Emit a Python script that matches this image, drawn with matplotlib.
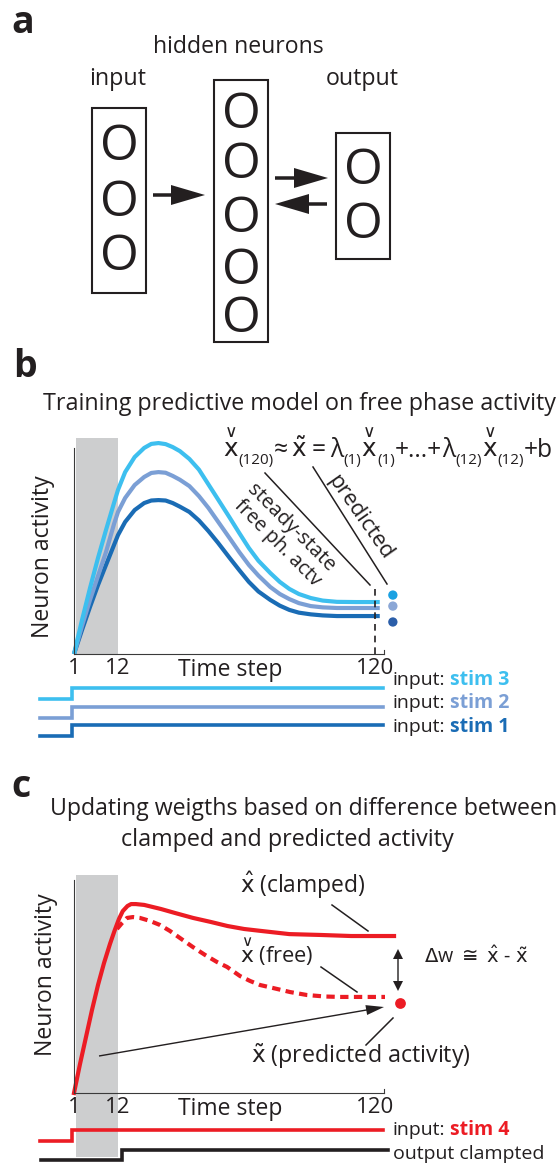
import numpy as np
import matplotlib
matplotlib.use('Agg')
import matplotlib.pyplot as plt
from matplotlib.patches import Rectangle, FancyArrow
from matplotlib.transforms import blended_transform_factory

plt.rcParams['font.family'] = ['Open Sans', 'DejaVu Sans']
plt.rcParams['mathtext.fontset'] = 'dejavusans'

# ---------------- data ----------------
# panel b: free-phase activity for three stimuli (time step, activity 0..1)
t_b = [1, 3, 5, 7, 9, 11, 12, 15, 19, 23, 26, 29, 32, 35, 38, 42, 46, 50, 54, 59,
       63, 67, 71, 76, 80, 84, 88, 93, 98, 104, 112, 122]
act_stim3 = [0, 0.16, 0.311, 0.453, 0.585, 0.712, 0.774, 0.858, 0.929, 0.972, 0.991, 0.995,
             0.99, 0.976, 0.957, 0.92, 0.87, 0.80, 0.73, 0.642, 0.57, 0.50, 0.44, 0.382,
             0.34, 0.307, 0.283, 0.264, 0.252, 0.246, 0.245, 0.245]
act_stim2 = [0, 0.132, 0.255, 0.368, 0.481, 0.613, 0.67, 0.736, 0.797, 0.835, 0.854, 0.858,
             0.855, 0.84, 0.822, 0.792, 0.745, 0.689, 0.625, 0.545, 0.48, 0.42, 0.37, 0.316,
             0.283, 0.259, 0.24, 0.226, 0.22, 0.217, 0.217, 0.217]
act_stim1 = [0, 0.113, 0.222, 0.325, 0.42, 0.514, 0.561, 0.623, 0.679, 0.712, 0.724, 0.726,
             0.724, 0.712, 0.695, 0.67, 0.63, 0.58, 0.525, 0.452, 0.395, 0.34, 0.295, 0.255,
             0.228, 0.208, 0.195, 0.187, 0.182, 0.179, 0.179, 0.179]
t_pred_b = 127.5
pred_b = [0.278, 0.226, 0.151]          # stim 3, stim 2, stim 1

# panel c: clamped vs free activity for stim 4
t_clamped = [1, 2.5, 4, 5.5, 7, 8.5, 10, 11.2, 12.4, 14, 16, 17.5, 19.5, 23, 30, 36,
             43.5, 51, 58, 65, 72, 84, 97, 110, 128]
act_clamped = [0, 0.136, 0.263, 0.39, 0.507, 0.61, 0.70, 0.765, 0.817, 0.854, 0.878, 0.887,
               0.887, 0.883, 0.864, 0.845, 0.822, 0.803, 0.784, 0.77, 0.761, 0.746, 0.742,
               0.737, 0.737]
t_free = [11.75, 13.7, 15.8, 18.3, 21.2, 25.4, 29.6, 33.8, 38, 43.5, 48.6, 53.6, 57.8,
          63.3, 67.5, 71.7, 77.1, 84.3, 91.4, 99, 105.3, 113.7, 124.2]
act_free = [0.77, 0.798, 0.822, 0.826, 0.822, 0.808, 0.789, 0.761, 0.728, 0.685, 0.648,
            0.615, 0.592, 0.549, 0.526, 0.507, 0.493, 0.474, 0.46, 0.453, 0.451, 0.451, 0.451]
t_pred_c = 130.5
pred_c = 0.423

# inputs (step functions)
t_input = [-7.5, 0.6, 0.6, 123.5]
level_input = [0, 0, 1, 1]
t_clamp_out = [-7.3, 13.6, 13.6, 125.5]
level_clamp_out = [0, 0, 1, 1]

stim_names = ['stim 3', 'stim 2', 'stim 1']
x_ticks = [1, 12, 120]
x_ticklabels = ['1', '12', '120']

# ---------------- style ----------------
K = '#231f20'
C3, C2, C1 = '#3dbfef', '#7b9fd5', '#1a6cb5'
D3, D2, D1 = '#1ba1e2', '#8ba7d6', '#2b5ea9'
RED = '#ec1c24'
GRAY = '#cdcecf'
XCHECK = r'$\overset{\vee}{\mathrm{x}}$'
XTILDE, XHAT = r'$\tilde{\mathrm{x}}$', r'$\hat{\mathrm{x}}$'

W, H = 560, 1167
fig = plt.figure(figsize=(W / 100, H / 100), dpi=100)
ov = fig.add_axes([0, 0, 1, 1], zorder=0)
ov.set_xlim(0, W)
ov.set_ylim(H, 0)
ov.axis('off')
R = fig.canvas.get_renderer()


def px_axes(x0, x1, y_top, y_bot):
    return fig.add_axes([x0 / W, 1 - y_bot / H, (x1 - x0) / W, (y_bot - y_top) / H], zorder=1)


def fit(txt, w):
    bb = txt.get_window_extent(R)
    txt.set_fontsize(txt.get_fontsize() * w / bb.width)
    return txt


def T(x, y, s, w=None, **kw):
    kw.setdefault('color', K)
    kw.setdefault('va', 'baseline')
    kw.setdefault('ha', 'left')
    kw.setdefault('fontsize', 15)
    t = ov.text(x, y, s, **kw)
    if w is not None:
        fit(t, w)
    return t


def width_of(t):
    return t.get_window_extent(R).width


def rich(x, y, parts, fs, target=None, color=K):
    """parts: list of (text, kind); kind 'n' normal, 's' subscript, 'g' gap (em)."""
    def build(x0, fs):
        em = fs * 100 / 72
        cx = x0
        made = []
        for s, kind in parts:
            if kind == 'g':
                cx += float(s) * em
                continue
            if kind == 's':
                t = ov.text(cx, y + 0.27 * em, s, fontsize=fs * 0.62, color=color,
                            va='baseline', ha='left')
            else:
                t = ov.text(cx, y, s, fontsize=fs, color=color, va='baseline', ha='left')
            made.append(t)
            cx += width_of(t)
        return made, cx - x0

    made, wtot = build(x, fs)
    if target is not None:
        for t in made:
            t.remove()
        fs = fs * target / wtot
        made, wtot = build(x, fs)
    return made


T_K = [-100, 1, 12, 120, 400]
U_K = [-404, 0, 44, 301, 301 + 280 * 2.38]


def fwd(t):
    return np.interp(t, T_K, U_K)


def inv(u):
    return np.interp(u, U_K, T_K)


def setup_axes(ax):
    ax.set_xscale('function', functions=(fwd, inv))
    ax.set_xlim(1, float(inv(310)))
    ax.set_ylim(0, 1)
    ax.patch.set_visible(False)
    for s in ('top', 'right'):
        ax.spines[s].set_visible(False)
    for s in ('left', 'bottom'):
        ax.spines[s].set_color('#3a3a3a')
        ax.spines[s].set_linewidth(0.8)
    ax.set_yticks([])
    ax.set_xticks(x_ticks)
    ax.set_xticklabels(x_ticklabels)
    ax.tick_params(axis='x', length=0, pad=3, labelsize=16, labelcolor=K)


# ================= panel a =================
T(11, 33, 'a', fontsize=27, weight='bold')
T(238, 53, 'hidden neurons', w=170, ha='center')
T(118, 85, 'input', w=57, ha='center')
T(362, 85, 'output', w=73, ha='center')

for (x0, y0, x1, y1) in [(92, 108, 146, 293), (214, 80, 268, 342), (336, 133, 390, 259)]:
    ov.add_patch(Rectangle((x0, y0), x1 - x0, y1 - y0, fill=False, ec=K, lw=1.5))


def neuron(x, yc):
    ov.text(x, yc + 18.5, 'O', fontsize=36, ha='center', va='baseline', color=K)


for yc in (142, 197, 252):
    neuron(119, yc)
for yc in (109, 160, 213, 266, 313):
    neuron(241, yc)
for yc in (165, 219):
    neuron(363, yc)

ov.add_patch(FancyArrow(153, 195, 52, 0, width=3.5, head_width=20, head_length=34,
                        length_includes_head=True, color=K, lw=0))
ov.add_patch(FancyArrow(275, 178, 53, 0, width=3.5, head_width=20, head_length=34,
                        length_includes_head=True, color=K, lw=0))
ov.add_patch(FancyArrow(327, 204, -52, 0, width=3.5, head_width=20, head_length=34,
                        length_includes_head=True, color=K, lw=0))

# ================= panel b =================
T(13, 377, 'b', fontsize=27, weight='bold')
T(299, 410, 'Training predictive model on free phase activity', w=512, ha='center')
rich(223, 457, [(XCHECK, 'n'), ('(120)', 's'), ('\u2248', 'n'), ('0.12', 'g'), (XTILDE, 'n'),
                ('0.2', 'g'), ('=', 'n'), ('0.2', 'g'), ('\u03bb', 'n'), ('(1)', 's'),
                (XCHECK, 'n'), ('(1)', 's'), ('+...+', 'n'), ('\u03bb', 'n'), ('(12)', 's'),
                (XCHECK, 'n'), ('(12)', 's'), ('+b', 'n')], 18, target=330)

ax_b = px_axes(74, 384, 442, 654)
setup_axes(ax_b)
ax_b.spines['left'].set_bounds(0, 0.97)
tr_b = blended_transform_factory(ax_b.transData, ov.transData)
ov.add_patch(Rectangle((1.6, 438), 12 - 1.6, 654 - 438, transform=tr_b, color=GRAY, lw=0, zorder=0.5))

for vals, col in [(act_stim1, C1), (act_stim2, C2), (act_stim3, C3)]:
    ax_b.plot(t_b, vals, color=col, lw=3, clip_on=False, solid_capstyle='butt',
              solid_joinstyle='round')
ax_b.plot([120, 120], [0, 0.325], color=K, lw=1.2, ls=(0, (4, 3)), clip_on=False)
ax_b.scatter([t_pred_b] * 3, pred_b, s=45, c=[D3, D2, D1], clip_on=False, zorder=3, lw=0)

T(230, 676, 'Time step', w=104, ha='center')
yl = T(43, 557, 'Neuron activity', ha='center', va='center')
fit(yl, 163)
yl.set_rotation(90)

# annotation lines
ov.plot([265, 370], [473, 585], color=K, lw=1.1)
ov.plot([313, 387], [467, 584], color=K, lw=1.1)
ov.plot([384, 384], [650, 654], color='#3a3a3a', lw=0.8)
for s, (x, y), w, rot in [('steady-state', (291, 528), 117, -45),
                          ('free ph. actv', (277, 543), 114, -45),
                          ('predicted', (360, 517), 98, -55)]:
    t = T(x, y, s, ha='center', va='center', rotation_mode='anchor')
    fit(t, w)
    t.set_rotation(rot)

# input traces
for base, col in zip([699, 718, 736], [C3, C2, C1]):
    ov.plot(t_input, [base - 11 * v for v in level_input], transform=tr_b,
            color=col, lw=2.6, solid_joinstyle='miter')


def two_part(x, y, a, b, col, fs):
    t1 = T(x, y, a, fontsize=fs)
    bb = t1.get_window_extent(R)
    x1 = ov.transData.inverted().transform((bb.x1, bb.y0))[0]
    T(x1 + 5, y, b, fontsize=fs, weight='bold', color=col)


for y, name, col in zip([685, 708, 732], stim_names, [C3, C2, C1]):
    two_part(393, y, 'input:', name, col, 14)

# ================= panel c =================
T(11, 797, 'c', fontsize=27, weight='bold')
T(304, 815, 'Updating weigths based on difference between', w=508, ha='center')
T(287, 846, 'clamped and predicted activity', w=334, ha='center')

ax_c = px_axes(74, 384, 880, 1093)
setup_axes(ax_c)
tr_c = blended_transform_factory(ax_c.transData, ov.transData)
ov.add_patch(Rectangle((1.5, 875), 12 - 1.5, 1157 - 875, transform=tr_c, color=GRAY, lw=0, zorder=0.5))

ax_c.plot(t_clamped, act_clamped, color=RED, lw=3, clip_on=False, solid_joinstyle='round')
ax_c.plot(t_free, act_free, color=RED, lw=3, clip_on=False, ls=(0, (2.0, 1.3)))
ax_c.scatter([t_pred_c], [pred_c], s=60, c=RED, clip_on=False, zorder=3, lw=0)
ov.plot([384, 384], [1089, 1093], color='#3a3a3a', lw=0.8)

T(230, 1115, 'Time step', w=104, ha='center')
yl = T(46, 975, 'Neuron activity', ha='center', va='center')
fit(yl, 163)
yl.set_rotation(90)

T(240, 893, XHAT + ' (clamped)', w=126)
T(240, 963, XCHECK + ' (free)', w=74)
T(251, 1063, XTILDE + ' (predicted activity)', w=221)
T(424, 963, r'$\Delta$w $\cong$ ' + XHAT + ' - ' + XTILDE, w=104)

ov.plot([332, 368], [905, 931], color=K, lw=1.1)
ov.plot([321, 357], [967, 992], color=K, lw=1.1)
ov.plot([366, 393], [1045, 1018], color=K, lw=1.1)
ov.add_patch(FancyArrow(99, 1056, 285, -49, width=1.4, head_width=10, head_length=18,
                        length_includes_head=True, color=K, lw=0))
ov.add_patch(FancyArrow(398, 970, 0, -21, width=1.4, head_width=10, head_length=10,
                        length_includes_head=True, color=K, lw=0))
ov.add_patch(FancyArrow(398, 970, 0, 21, width=1.4, head_width=10, head_length=10,
                        length_includes_head=True, color=K, lw=0))

ov.plot(t_input, [1141 - 11 * v for v in level_input], transform=tr_c,
        color=RED, lw=2.6, solid_joinstyle='miter')
ov.plot(t_clamp_out, [1160 - 10 * v for v in level_clamp_out], transform=tr_c,
        color=K, lw=2.6, solid_joinstyle='miter')
two_part(393, 1135, 'input:', 'stim 4', RED, 14)
T(393, 1159, 'output clampted', w=151)

fig.savefig('out.png', dpi=100)
